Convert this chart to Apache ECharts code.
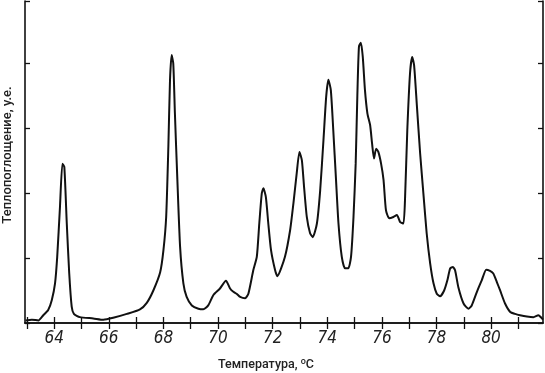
<!DOCTYPE html>
<html><head><meta charset="utf-8">
<script src="https://cdn.jsdelivr.net/npm/echarts@6/dist/echarts.min.js"></script>
<style>html,body{margin:0;padding:0;background:#fff}#c{width:545px;height:373px}</style>
</head><body><div id="c"></div>
<script>
const temps = [62.95,63.18,63.42,63.60,63.78,63.91,64.03,64.11,64.21,64.30,64.37,64.46,64.55,64.64,64.72,64.94,65.43,65.80,66.16,66.66,67.14,67.39,67.63,67.88,68.00,68.10,68.18,68.24,68.30,68.36,68.42,68.51,68.61,68.73,68.85,69.04,69.28,69.46,69.64,69.83,70.07,70.29,70.44,70.56,70.68,70.81,70.99,71.11,71.29,71.42,71.51,71.60,71.66,71.75,71.84,71.94,72.09,72.17,72.45,72.64,72.76,72.88,72.98,73.07,73.15,73.25,73.37,73.47,73.62,73.74,73.86,73.96,74.04,74.13,74.22,74.32,74.41,74.53,74.65,74.77,74.87,74.96,75.04,75.10,75.16,75.23,75.30,75.38,75.47,75.57,75.64,75.71,75.79,75.87,75.97,76.06,76.15,76.27,76.42,76.55,76.67,76.79,76.85,76.93,77.03,77.11,77.18,77.28,77.40,77.52,77.64,77.77,77.89,78.01,78.13,78.28,78.40,78.50,78.60,78.68,78.80,78.99,79.17,79.29,79.48,79.66,79.82,79.96,80.08,80.21,80.33,80.51,80.70,80.88,81.06,81.31,81.55,81.73,81.84,81.90];
const heat = [0.04,0.05,0.04,0.12,0.20,0.35,0.61,1.02,1.78,2.45,2.40,1.53,0.76,0.25,0.14,0.09,0.07,0.05,0.08,0.14,0.21,0.31,0.50,0.78,1.12,1.63,2.71,3.73,4.12,3.99,3.22,2.20,1.17,0.61,0.40,0.27,0.22,0.21,0.27,0.43,0.53,0.65,0.53,0.48,0.45,0.40,0.38,0.45,0.81,1.02,1.53,1.99,2.07,1.94,1.53,1.12,0.81,0.72,1.02,1.43,1.84,2.30,2.63,2.50,2.09,1.63,1.38,1.32,1.53,2.04,2.81,3.48,3.74,3.58,2.96,2.20,1.53,1.02,0.84,0.84,1.02,1.63,2.45,3.48,4.25,4.31,4.09,3.58,3.22,3.04,2.76,2.53,2.68,2.63,2.45,2.20,1.73,1.61,1.63,1.66,1.55,1.53,1.94,2.96,3.84,4.09,3.96,3.35,2.61,1.99,1.38,0.91,0.61,0.45,0.41,0.50,0.66,0.84,0.86,0.81,0.55,0.30,0.22,0.27,0.48,0.66,0.82,0.80,0.76,0.63,0.50,0.30,0.17,0.14,0.12,0.10,0.09,0.12,0.08,0.05];
const xTicks = [63,64,65,66,67,68,69,70,71,72,73,74,75,76,77,78,79,80,81];
const xLabels = [64,66,68,70,72,74,76,78,80];
const xName = 'Температура, ';
const yName = 'Теплопоглощение, у.е.';

const chart = echarts.init(document.getElementById('c'), null, {renderer:'canvas'});
const X_MIN = 62.93, X_MAX = 81.90;
const axisLine = {show:true, lineStyle:{color:'#111', width:1.6}};
const tick = {show:true, inside:true, length:6, lineStyle:{color:'#111', width:1.3}, customValues:xTicks};
chart.setOption({
  animation:false,
  backgroundColor:'#fff',
  grid:{left:25, right:2, top:1, bottom:50},
  xAxis:[
    {type:'value', min:X_MIN, max:X_MAX, position:'bottom', axisLine:axisLine, axisTick:tick,
     splitLine:{show:false},
     axisLabel:{show:true, customValues:xLabels, margin:7, fontSize:17, fontStyle:'italic', fontWeight:'lighter',
       fontFamily:'"Liberation Sans Narrow","DejaVu Sans Condensed",sans-serif', color:'#222',
       formatter:v=>String(v)}},
    {type:'value', min:X_MIN, max:X_MAX, position:'top', axisLine:axisLine, axisTick:tick,
     splitLine:{show:false}, axisLabel:{show:false}}
  ],
  yAxis:[
    {type:'value', min:0, max:4.95, interval:1, position:'left', axisLine:axisLine,
     axisTick:{show:true, inside:true, length:5, lineStyle:{color:'#111', width:1.3}},
     axisLabel:{show:false}, splitLine:{show:false}},
    {type:'value', min:0, max:4.95, interval:1, position:'right', axisLine:axisLine,
     axisTick:{show:true, inside:true, length:5, lineStyle:{color:'#111', width:1.3}},
     axisLabel:{show:false}, splitLine:{show:false}}
  ],
  series:[{
    type:'line', smooth:0.2, showSymbol:false, symbol:'none',
    data: temps.map((t,i)=>[t, heat[i]]),
    lineStyle:{color:'#111', width:2}
  }],
  graphic:[
    {type:'text', left:218, top:357,
     style:{text: xName + '{sup|o}C', fill:'#222', font:'500 12.5px Roboto, sans-serif',
       rich:{sup:{fontSize:9, fontFamily:'Roboto', fontWeight:500, fill:'#222', padding:[0,0,7,0]}}}},
    {type:'text', x:8, y:155, rotation:Math.PI/2,
     style:{text:yName, fill:'#222', font:'500 13px Roboto, sans-serif', align:'center', verticalAlign:'middle'}}
  ]
});
</script></body></html>
